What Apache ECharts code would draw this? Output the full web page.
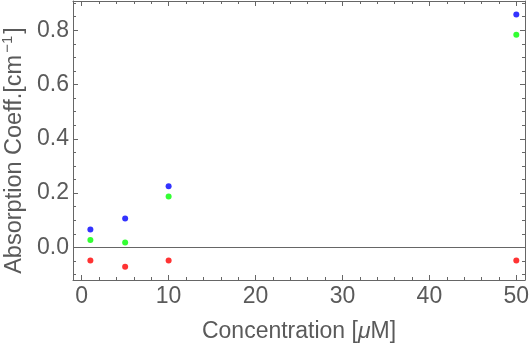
<!DOCTYPE html>
<html>
<head>
<meta charset="utf-8">
<script src="https://cdn.jsdelivr.net/npm/echarts@6/dist/echarts.min.js"></script>
<style>
  html, body { margin: 0; padding: 0; background: #fff; }
  #chart { width: 530px; height: 344px; }
</style>
</head>
<body>
<div id="chart"></div>
<script>
// Measured absorption coefficient versus concentration
const concentration = [1, 5, 10, 50];
const blueSeries  = [0.066, 0.107, 0.225, 0.858];
const greenSeries = [0.027, 0.018, 0.188, 0.784];
const redSeries   = [-0.048, -0.071, -0.048, -0.048];

// Frame ticks
const xMajorTicks = [0, 10, 20, 30, 40, 50];
const xMinorTicks = [2, 4, 6, 8, 12, 14, 16, 18, 22, 24, 26, 28, 32, 34, 36, 38, 42, 44, 46, 48];
const yMajorTicks = [0, 0.2, 0.4, 0.6, 0.8];
const yMinorTicks = [-0.1, -0.05, 0.05, 0.1, 0.15, 0.25, 0.3, 0.35, 0.45, 0.5, 0.55, 0.65, 0.7, 0.75, 0.85, 0.9];

const X_MIN = -1, X_MAX = 51;
const Y_MIN = -0.12, Y_MAX = 0.908;

const FONT = '"Liberation Sans", Arial, sans-serif';
const GREY = '#666666';
const TEXT = '#5a5a5a';

function pairs(ys) { return concentration.map((x, i) => [x, ys[i]]); }

const gridBox = { left: 73, right: 5, top: 1, bottom: 64, outerBoundsMode: 'none', containLabel: false };

// One axis of the frame; grid 0 carries the frame lines and major ticks, grid 1 the minor ticks
function frameAxis(range, gridIndex, position, ticks, len, opts) {
  return Object.assign({
    type: 'value', gridIndex, position, min: range[0], max: range[1],
    splitLine: { show: false },
    axisLine: { show: gridIndex === 0, onZero: false, lineStyle: { color: GREY, width: 1 } },
    axisTick: { show: true, inside: true, length: len, customValues: ticks, lineStyle: { color: GREY } },
    axisLabel: { show: false }
  }, opts || {});
}
const xAxis = (...a) => frameAxis([X_MIN, X_MAX], ...a);
const yAxis = (...a) => frameAxis([Y_MIN, Y_MAX], ...a);

const chart = echarts.init(document.getElementById('chart'), null, { renderer: 'canvas' });

chart.setOption({
  animation: false,
  backgroundColor: '#ffffff',
  grid: [Object.assign({}, gridBox), Object.assign({}, gridBox)],
  xAxis: [
    xAxis(0, 'bottom', xMajorTicks, 5, {
      name: 'Concentration [{i|μ}M]',
      nameLocation: 'middle', nameGap: 40,
      nameTextStyle: {
        fontFamily: FONT, fontSize: 23, color: TEXT,
        rich: { i: { fontFamily: FONT, fontSize: 23, color: TEXT, fontStyle: 'italic' } }
      },
      axisLabel: {
        show: true, customValues: xMajorTicks, margin: 5,
        fontFamily: FONT, fontSize: 23, color: TEXT
      }
    }),
    xAxis(0, 'top', xMajorTicks, 5),
    xAxis(1, 'bottom', xMinorTicks, 3),
    xAxis(1, 'top', xMinorTicks, 3)
  ],
  yAxis: [
    yAxis(0, 'left', yMajorTicks, 5, {
      name: '{a|Absorption Coeff.[cm}{s|−1}{a|]}',
      nameLocation: 'middle', nameRotate: 90, nameGap: 45,
      nameTextStyle: {
        padding: [0, 20, 0, 0],
        rich: {
          a: { fontFamily: FONT, fontSize: 23.5, color: TEXT },
          s: { fontFamily: FONT, fontSize: 15, color: TEXT, verticalAlign: 'top', padding: [0, 2, 12, 2] }
        }
      },
      axisLabel: {
        show: true, customValues: yMajorTicks, margin: 4,
        fontFamily: FONT, fontSize: 23, color: TEXT,
        formatter: v => v.toFixed(1)
      }
    }),
    yAxis(0, 'right', yMajorTicks, 5),
    yAxis(1, 'left', yMinorTicks, 3),
    yAxis(1, 'right', yMinorTicks, 3)
  ],
  series: [
    {
      type: 'scatter', xAxisIndex: 0, yAxisIndex: 0, data: pairs(blueSeries),
      symbolSize: 6, itemStyle: { color: '#0000ff' },
      markLine: {
        silent: true, symbol: 'none', label: { show: false },
        lineStyle: { color: GREY, width: 1, type: 'solid' },
        data: [{ yAxis: 0 }]
      }
    },
    { type: 'scatter', xAxisIndex: 0, yAxisIndex: 0, data: pairs(greenSeries), symbolSize: 6, itemStyle: { color: '#00ff00' } },
    { type: 'scatter', xAxisIndex: 0, yAxisIndex: 0, data: pairs(redSeries), symbolSize: 6, itemStyle: { color: '#ff0000' } }
  ]
});
</script>
</body>
</html>
